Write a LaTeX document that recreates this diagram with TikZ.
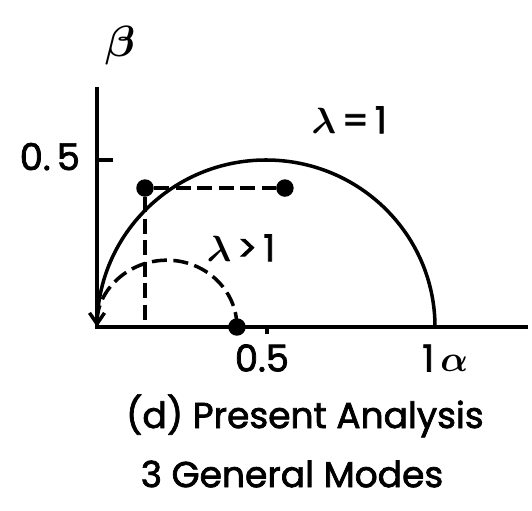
\documentclass[tikz,border=0pt]{standalone}
\usepackage{amsmath,amssymb}
\usepackage{fontspec}
\setmainfont{Poppins}[FakeBold=2]
\usepackage{tikz}
\usetikzlibrary{arrows.meta, positioning, calc}

\begin{document}
\begin{tikzpicture}[
    x=6.76cm, y=6.68cm,
    axis/.style={line width=2.1pt},
    curve/.style={line width=2pt},
    guide/.style={line width=2pt, dash pattern=on 0.3cm off 0.13cm},
    dot/.style={circle, fill=black, inner sep=0pt, minimum size=0.35cm},
    lbl/.style={font=\fontsize{21}{24}\selectfont, inner sep=1pt},
    caption/.style={font=\fontsize{20.5}{24}\selectfont, inner sep=1pt},
]
\useasboundingbox (-0.287,-0.548) rectangle (1.287,0.979);

% Axes
\coordinate (origin) at (0,0);
\coordinate (ytop) at (0,0.719);
\coordinate (xend) at (1.275,0);
\draw[axis] (ytop) -- (origin) -- (xend);

% Ticks
\coordinate (yhalf) at (0,0.5);
\coordinate (xhalf) at (0.503,0);
\draw[axis] (yhalf) -- ++(0.047,0);
\draw[axis] (xhalf) -- ++(0,-0.02);

% Axis labels
\node[lbl, anchor=east] (ylab) at (-0.044,0.51) {0.\,5};
\node[lbl] (xlab) at (0.488,-0.093) {0.5};
\node[lbl] (onelab) at (1.03,-0.093) {1\,$\boldsymbol{\alpha}$};
\node[lbl] (betalab) at (0.068,0.844) {\fontsize{28}{30}\selectfont$\boldsymbol{\beta}$};

% Lambda = 1 circle
\draw[curve] (origin) arc[start angle=180, end angle=0, radius=0.5];
\node[lbl] (lamone) at (0.746,0.62) {$\boldsymbol{\lambda}$\,=\,1};

% Modes
\node[dot] (dotA) at (0.142,0.416) {};
\node[dot] (dotB) at (0.556,0.416) {};
\node[dot] (dotC) at (0.414,0) {};
\draw[guide] (dotA) -- (dotB);
\draw[guide] (dotA) -- (dotA |- origin);

% Lambda > 1 curve
\draw[guide, -{Straight Barb[length=2.2mm, width=3mm]}] (dotC.center) arc[start angle=0, end angle=180, x radius=0.207, y radius=0.2];
\node[lbl] (lamgt) at (0.426,0.237) {$\boldsymbol{\lambda}$\,>\,1};

% Caption
\node[caption] (capA) at (0.615,-0.266) {(d) Present Analysis};
\node[caption] (capB) at (0.577,-0.44) {3 General Modes};

\end{tikzpicture}
\end{document}
